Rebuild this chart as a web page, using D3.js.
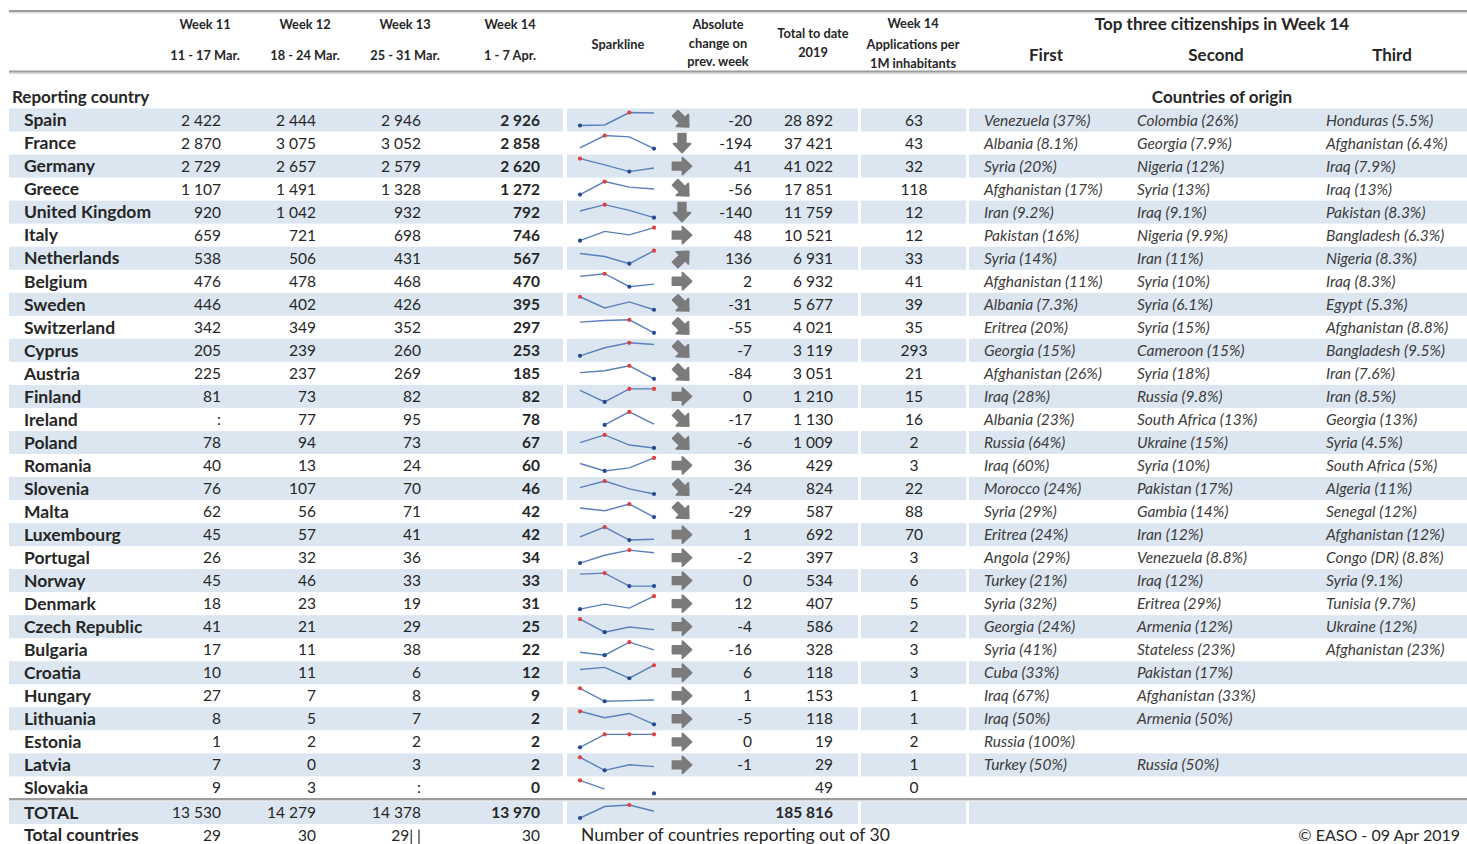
<!DOCTYPE html>
<html><head><meta charset="utf-8">
<script src="https://cdn.jsdelivr.net/npm/d3@7"></script>
<style>
body{margin:0;background:#fff}
text{font-family:Lato,"Open Sans",sans-serif;fill:#262626}
</style>
</head><body><svg id="c" width="1467" height="844"></svg>
<script>
const countries = ["Spain","France","Germany","Greece","United Kingdom","Italy","Netherlands","Belgium","Sweden","Switzerland","Cyprus","Austria","Finland","Ireland","Poland","Romania","Slovenia","Malta","Luxembourg","Portugal","Norway","Denmark","Czech Republic","Bulgaria","Croatia","Hungary","Lithuania","Estonia","Latvia","Slovakia"];
const week11 = [2422,2870,2729,1107,920,659,538,476,446,342,205,225,81,null,78,40,76,62,45,26,45,18,41,17,10,27,8,1,7,9];
const week12 = [2444,3075,2657,1491,1042,721,506,478,402,349,239,237,73,77,94,13,107,56,57,32,46,23,21,11,11,7,5,2,0,3];
const week13 = [2946,3052,2579,1328,932,698,431,468,426,352,260,269,82,95,73,24,70,71,41,36,33,19,29,38,6,8,7,2,3,null];
const week14 = [2926,2858,2620,1272,792,746,567,470,395,297,253,185,82,78,67,60,46,42,42,34,33,31,25,22,12,9,2,2,2,0];
const change = [-20,-194,41,-56,-140,48,136,2,-31,-55,-7,-84,0,-17,-6,36,-24,-29,1,-2,0,12,-4,-16,6,1,-5,0,-1,null];
const totalToDate = [28892,37421,41022,17851,11759,10521,6931,6932,5677,4021,3119,3051,1210,1130,1009,429,824,587,692,397,534,407,586,328,118,153,118,19,29,49];
const perMillion = [63,43,32,118,12,12,33,41,39,35,293,21,15,16,2,3,22,88,70,3,6,5,2,3,3,1,1,2,1,0];
const trendArrow = ["dr","d","r","dr","d","r","ur","r","dr","dr","dr","dr","r","dr","dr","r","dr","dr","r","r","r","r","r","r","r","r","r","r","r",""];
const firstCit = ["Venezuela (37%)","Albania (8.1%)","Syria (20%)","Afghanistan (17%)","Iran (9.2%)","Pakistan (16%)","Syria (14%)","Afghanistan (11%)","Albania (7.3%)","Eritrea (20%)","Georgia (15%)","Afghanistan (26%)","Iraq (28%)","Albania (23%)","Russia (64%)","Iraq (60%)","Morocco (24%)","Syria (29%)","Eritrea (24%)","Angola (29%)","Turkey (21%)","Syria (32%)","Georgia (24%)","Syria (41%)","Cuba (33%)","Iraq (67%)","Iraq (50%)","Russia (100%)","Turkey (50%)",""];
const secondCit = ["Colombia (26%)","Georgia (7.9%)","Nigeria (12%)","Syria (13%)","Iraq (9.1%)","Nigeria (9.9%)","Iran (11%)","Syria (10%)","Syria (6.1%)","Syria (15%)","Cameroon (15%)","Syria (18%)","Russia (9.8%)","South Africa (13%)","Ukraine (15%)","Syria (10%)","Pakistan (17%)","Gambia (14%)","Iran (12%)","Venezuela (8.8%)","Iraq (12%)","Eritrea (29%)","Armenia (12%)","Stateless (23%)","Pakistan (17%)","Afghanistan (33%)","Armenia (50%)","","Russia (50%)",""];
const thirdCit = ["Honduras (5.5%)","Afghanistan (6.4%)","Iraq (7.9%)","Iraq (13%)","Pakistan (8.3%)","Bangladesh (6.3%)","Nigeria (8.3%)","Iraq (8.3%)","Egypt (5.3%)","Afghanistan (8.8%)","Bangladesh (9.5%)","Iran (7.6%)","Iran (8.5%)","Georgia (13%)","Syria (4.5%)","South Africa (5%)","Algeria (11%)","Senegal (12%)","Afghanistan (12%)","Congo (DR) (8.8%)","Syria (9.1%)","Tunisia (9.7%)","Ukraine (12%)","Afghanistan (23%)","","","","","",""];
const weekTotals = [13530,14279,14378,13970];
const grandTotal = 185816;
const countriesReporting = ["29","30","29| |","30"];
const weekLabels = ["Week 11","Week 12","Week 13","Week 14"];
const weekDates = ["11 - 17 Mar.","18 - 24 Mar.","25 - 31 Mar.","1 - 7 Apr."];
const citLabels = ["First","Second","Third"];

const svg = d3.select("#c");
const fmt = d3.formatLocale({thousands:" ",grouping:[3],decimal:".",currency:["",""],minus:"-"}).format(",d");
const show = v => v == null ? ":" : fmt(v);

const y = d3.scaleBand().domain(countries).range([108.5, 799.4]);
const bw = y.bandwidth();
const cy = c => y(c) + bw/2;
const colX = [221,316,421,540];
const segs = [[9,563],[567,858],[861,966],[969,1467]];
const shade = "#dce6f1";
const NAME = 17.5, NUM = 15.5, BIG = 17;

function dbl(yy){
  svg.append("rect").attr("x",9).attr("y",yy).attr("width",1458).attr("height",2.2).attr("fill","#9c9c9c");
  svg.append("rect").attr("x",9).attr("y",yy+2.2).attr("width",1458).attr("height",1.2).attr("fill","#d6d6d6");
}
dbl(10); dbl(70.5);

const hdr = svg.append("g").attr("font-weight","bold").attr("font-size",12.8).attr("text-anchor","middle");
const hx = [205,305,405,510];
weekLabels.forEach((t,i)=>hdr.append("text").attr("x",hx[i]).attr("y",29).text(t));
weekDates.forEach((t,i)=>hdr.append("text").attr("x",hx[i]).attr("y",60).text(t));
hdr.append("text").attr("x",618).attr("y",49).text("Sparkline");
[["Absolute",29],["change on",48],["prev. week",66]].forEach(([t,yy])=>hdr.append("text").attr("x",718).attr("y",yy).text(t));
[["Total to date",38],["2019",57]].forEach(([t,yy])=>hdr.append("text").attr("x",813).attr("y",yy).text(t));
[["Week 14",28],["Applications per",49],["1M inhabitants",68]].forEach(([t,yy])=>hdr.append("text").attr("x",913).attr("y",yy).text(t));
svg.append("text").attr("x",1222).attr("y",30).attr("text-anchor","middle").attr("font-weight","bold").attr("font-size",BIG).text("Top three citizenships in Week 14");
const cx3 = [1046,1216,1392];
citLabels.forEach((t,i)=>svg.append("text").attr("x",cx3[i]).attr("y",61).attr("text-anchor","middle").attr("font-weight","bold").attr("font-size",BIG).text(t));
svg.append("text").attr("x",12).attr("y",103).attr("font-weight","bold").attr("font-size",BIG).text("Reporting country");
svg.append("text").attr("x",1222).attr("y",103).attr("text-anchor","middle").attr("font-weight","bold").attr("font-size",BIG).text("Countries of origin");

countries.forEach((c,i)=>{
  if(i%2===0) segs.forEach(([a,b])=>svg.append("rect").attr("x",a).attr("y",y(c)).attr("width",b-a).attr("height",bw).attr("fill",shade));
});

const rows = svg.append("g");
const xs = d3.scalePoint().domain([0,1,2,3]).range([580,654]);

function sparkline(g, vals, c){
  const ext = d3.extent(vals.filter(v=>v!=null));
  const ys = d3.scaleLinear().domain(ext).range([c+5.5, c-7.5]);
  const line = d3.line().defined(d=>d!=null).x((d,i)=>xs(i)).y(d=>ys(d));
  g.append("path").attr("d",line(vals)).attr("fill","none").attr("stroke","#5a80bd").attr("stroke-width",1.4);
  vals.forEach((v,i)=>{
    if(v==null) return;
    let col=null;
    if(v===ext[1]) col="#e0413a"; else if(v===ext[0]) col="#244b91";
    if(col) g.append("circle").attr("cx",xs(i)).attr("cy",ys(v)).attr("r",2.1).attr("fill",col);
  });
}

const arrowPath = "M-9.5,-3.8 L0.5,-3.8 L0.5,-8.5 L9.5,0 L0.5,8.5 L0.5,3.8 L-9.5,3.8 Z";
const rot = {r:0, dr:45, d:90, ur:-45};

countries.forEach((c,i)=>{
  const yc = cy(c);
  const g = rows.append("g");
  g.append("text").attr("x",24).attr("y",yc).attr("dy","0.36em").attr("font-weight","bold").attr("font-size",NAME).text(c);
  [week11,week12,week13,week14].forEach((arr,k)=>{
    g.append("text").attr("x",colX[k]).attr("y",yc).attr("dy","0.36em").attr("text-anchor","end").attr("font-size",NUM).attr("font-weight",k===3?"bold":"normal").text(show(arr[i]));
  });
  sparkline(g,[week11[i],week12[i],week13[i],week14[i]],yc);
  if(trendArrow[i]) g.append("path").attr("d",arrowPath).attr("transform",`translate(682,${yc}) rotate(${rot[trendArrow[i]]})`).attr("fill","#7b7b7b").attr("stroke","#7b7b7b").attr("stroke-width",1.8).attr("stroke-linejoin","round");
  if(change[i]!=null) g.append("text").attr("x",752).attr("y",yc).attr("dy","0.36em").attr("text-anchor","end").attr("font-size",NUM).text(fmt(change[i]));
  g.append("text").attr("x",833).attr("y",yc).attr("dy","0.36em").attr("text-anchor","end").attr("font-size",NUM).text(fmt(totalToDate[i]));
  g.append("text").attr("x",914).attr("y",yc).attr("dy","0.36em").attr("text-anchor","middle").attr("font-size",NUM).text(perMillion[i]);
  [firstCit,secondCit,thirdCit].forEach((arr,k)=>{
    if(arr[i]) g.append("text").attr("x",[984,1137,1326][k]).attr("y",yc).attr("dy","0.36em").attr("font-style","italic").attr("font-size",15.5).style("fill","#3c3c3c").text(arr[i]);
  });
});

dbl(798);
const ty = 812.5;
segs.forEach(([a,b])=>svg.append("rect").attr("x",a).attr("y",ty-11).attr("width",b-a).attr("height",22.5).attr("fill",shade));
svg.append("text").attr("x",24).attr("y",ty).attr("dy","0.36em").attr("font-weight","bold").attr("font-size",NAME).text("TOTAL");
weekTotals.forEach((v,k)=>svg.append("text").attr("x",colX[k]).attr("y",ty).attr("dy","0.36em").attr("text-anchor","end").attr("font-size",NUM).attr("font-weight",k===3?"bold":"normal").text(fmt(v)));
sparkline(svg.append("g"),weekTotals,ty);
svg.append("text").attr("x",833).attr("y",ty).attr("dy","0.36em").attr("text-anchor","end").attr("font-size",NUM).attr("font-weight","bold").text(fmt(grandTotal));

const by = 835;
svg.append("text").attr("x",24).attr("y",by).attr("dy","0.36em").attr("font-weight","bold").attr("font-size",NAME).text("Total countries");
countriesReporting.forEach((t,k)=>svg.append("text").attr("x",colX[k]).attr("y",by).attr("dy","0.36em").attr("text-anchor","end").attr("font-size",NUM).text(t));
svg.append("text").attr("x",581).attr("y",by).attr("dy","0.36em").attr("font-size",17.5).text("Number of countries reporting out of 30");
svg.append("text").attr("x",1460).attr("y",by).attr("dy","0.36em").attr("text-anchor","end").attr("font-size",16).text("© EASO - 09 Apr 2019");
</script></body></html>
